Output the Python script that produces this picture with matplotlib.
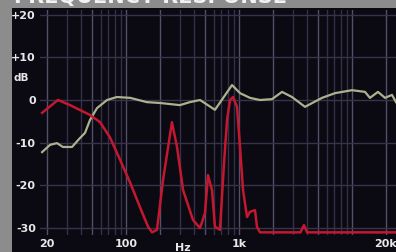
import numpy as np
import matplotlib
matplotlib.use("Agg")
import matplotlib.pyplot as plt

# ---- data ----
green_f = [18.1, 21.3, 24.5, 27.7, 33.3, 39.2, 43.4, 48, 55.4, 68, 83, 109, 153, 200, 300,
           368, 452, 613, 868, 1021, 1251, 1534, 1960, 2404, 2945, 3838, 5430, 7076,
           10000, 13040, 14420, 16980, 19600, 22600, 24500]
green_db = [-12.2, -10.5, -10.1, -11.0, -11.0, -8.9, -7.7, -4.7, -1.9, 0.0, 0.7, 0.5, -0.5, -0.7, -1.2,
            -0.5, 0.0, -2.3, 3.5, 1.6, 0.5, 0.0, 0.2, 1.9, 0.7, -1.6, 0.5, 1.6,
            2.3, 1.9, 0.5, 1.9, 0.5, 1.2, -0.5]

red_f = [18.1, 25, 32, 48, 59, 72, 89, 109, 133, 157, 170, 188, 213, 255, 283, 320, 392, 452,
         500, 532, 577, 613, 679, 737, 784, 833, 885, 960, 1021, 1086, 1178, 1251, 1386, 1443,
         1534, 3500, 3760, 4000, 24500]
red_db = [-3.0, 0.0, -1.2, -3.5, -5.2, -8.7, -14.1, -19.4, -25.1, -29.7, -31.0, -30.4, -18.7, -5.2,
          -11.0, -21.1, -28.1, -30.0, -26.5, -17.6, -21.1, -29.7, -30.4, -14.8, -4.7, 0.0, 0.7,
          -1.6, -11.0, -21.1, -27.4, -26.2, -25.8, -29.7, -31.0, -31.0, -29.3, -31.0, -31.0]

y_ticks = [20, 10, 0, -10, -20, -30]
y_labels = ["+20", "+10", "0", "-10", "-20", "-30"]
x_ticks = [20, 100, 1000, 20000]
x_labels = ["20", "100", "1k", "20k"]
title = "FREQUENCY RESPONSE"

# ---- figure ----
W, H = 396, 252
fig = plt.figure(figsize=(W / 100, H / 100), dpi=100, facecolor="#8c8c8c")
panel = "#0b0912"
bg = fig.add_axes([12 / W, 0, 384 / W, 244 / H], zorder=-5)
bg.set_facecolor(panel)
bg.set_xticks([]); bg.set_yticks([])
for s in bg.spines.values():
    s.set_visible(False)

ax_l, ax_r, ax_t, ax_b = 40, 396, 10, 235
ax = fig.add_axes([ax_l / W, (H - ax_b) / H, (ax_r - ax_l) / W, (ax_b - ax_t) / H], zorder=1)
ax.set_facecolor(panel)
ax.set_xscale("log")

# pixel mapping: x = 47 + (log10(f)-log10(20))*113 ; y = 100 - 4.27*dB
def f_at(px):
    return 20 * 10 ** ((px - 47) / 113)
def db_at(py):
    return (100 - py) / 4.27

ax.set_xlim(f_at(ax_l), f_at(ax_r))
ax.set_ylim(db_at(ax_b), db_at(ax_t))

# grid
for dec in [10, 100, 1000, 10000]:
    for m in range(1, 10):
        f = dec * m
        if f < 20 or f > 24000:
            continue
        col = "#55506a" if m in (1, 2, 5) else "#35304a"
        ax.axvline(f, color=col, lw=1.0, zorder=1)
for v in [20, 10, 0, -10, -20, -30]:
    ax.axhline(v, color="#38334a", lw=1.0, zorder=1)

ax.plot(green_f, green_db, color="#a9b48e", lw=1.6, zorder=3)
ax.plot(red_f, red_db, color="#c41830", lw=1.8, zorder=4)

for s in ax.spines.values():
    s.set_visible(False)

ax.set_yticks(y_ticks)
ax.set_yticklabels(y_labels)
ax.set_xticks(x_ticks)
ax.set_xticklabels(x_labels)
ax.minorticks_off()
ax.tick_params(axis="both", length=0, colors="#e8e8e8", labelsize=8)
ax.tick_params(axis="y", pad=3)
ax.tick_params(axis="x", pad=3)
for lab in ax.get_xticklabels() + ax.get_yticklabels():
    lab.set_fontweight("bold")

fig.text(14 / W, 1 - 78 / H, "dB", color="#e8e8e8", fontsize=7.5, fontweight="bold",
         ha="left", va="center")
fig.text(183 / W, 1 - 248 / H, "Hz", color="#e8e8e8", fontsize=8, fontweight="bold",
         ha="center", va="center")
fig.text(14 / W, 1 - 7 / H, title, color="#f2f2f2", fontsize=15, fontweight="bold",
         ha="left", va="bottom")

fig.savefig("out.png", dpi=100, facecolor=fig.get_facecolor())
